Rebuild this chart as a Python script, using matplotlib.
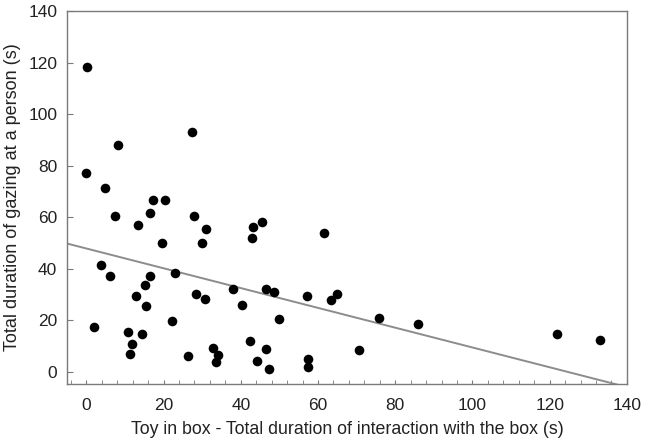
"""
Scatter of gazing duration vs. interaction duration, with fitted line
"""

import matplotlib
matplotlib.use('Agg')
import matplotlib.pyplot as plt
from matplotlib.ticker import MultipleLocator
import numpy as np

plt.rcParams['font.family'] = ['Liberation Sans', 'DejaVu Sans']

# interaction with the box (s)
box_time = [0.2, -0.1, 4.8, 8.1, 7.4, 27.4, 17.2, 20.3, 16.5, 13.4,
            27.8, 30.9, 19.5, 29.9, 42.8, 43.2, 45.4, 3.9, 6.0, 16.4,
            22.9, 15.1, 12.8, 15.4, 28.3, 30.7, 37.9, 40.4, 46.5, 48.6,
            49.9, 22.3, 1.9, 10.8, 14.3, 11.9, 11.2, 26.3, 32.8, 34.1,
            33.5, 42.5, 46.5, 44.1, 47.4, 61.5, 57.2, 63.4, 64.8, 75.8,
            85.9, 57.4, 57.4, 70.5, 121.8, 133.0]
# gazing at a person (s)
gaze_time = [118.4, 77.3, 71.5, 88.0, 60.6, 93.2, 66.7, 66.7, 61.5, 56.9,
             60.4, 55.6, 50.1, 50.1, 52.0, 56.2, 58.0, 41.4, 37.2, 37.1,
             38.3, 33.7, 29.5, 25.5, 30.2, 28.2, 32.3, 26.0, 32.3, 31.0,
             20.6, 19.6, 17.3, 15.4, 14.6, 10.7, 7.1, 6.2, 9.3, 6.7,
             3.8, 12.1, 8.8, 4.3, 1.0, 53.8, 29.6, 27.8, 30.2, 20.9,
             18.7, 5.2, 1.8, 8.5, 14.9, 12.5]

# fitted line
fit_intercept = 47.9
fit_slope = -0.384

fig = plt.figure(figsize=(6.45, 4.42), dpi=100)
ax = fig.add_axes([0.104, 0.131, 0.868, 0.844])

ax.scatter(box_time, gaze_time, s=48, color='black', zorder=3, linewidths=0)

xs = np.array([-5, 140])
ax.plot(xs, fit_intercept + fit_slope * xs, color='#8c8c8c', linewidth=1.4, zorder=2)

ax.set_xlim(-5, 140)
ax.set_ylim(-4.7, 140)
ax.set_xticks(range(0, 141, 20))
ax.set_yticks(range(0, 141, 20))
ax.xaxis.set_minor_locator(MultipleLocator(4))

for s in ax.spines.values():
    s.set_color('#7a7a7a')
    s.set_linewidth(1.0)

ax.tick_params(axis='x', which='both', direction='in', length=3, color='#7a7a7a',
               labelsize=12.5, labelcolor='#222222', pad=10)
ax.tick_params(axis='y', which='both', direction='in', length=4, color='#7a7a7a',
               labelsize=12.5, labelcolor='#222222', pad=7)
ax.tick_params(axis='y', which='minor', length=0)

ax.set_xlabel('Toy in box - Total duration of interaction with the box (s)',
              fontsize=12.8, color='#222222', labelpad=6)
ax.set_ylabel('Total duration of gazing at a person (s)',
              fontsize=13, color='#222222', labelpad=5)

plt.savefig('out.png', dpi=100)
plt.close()
